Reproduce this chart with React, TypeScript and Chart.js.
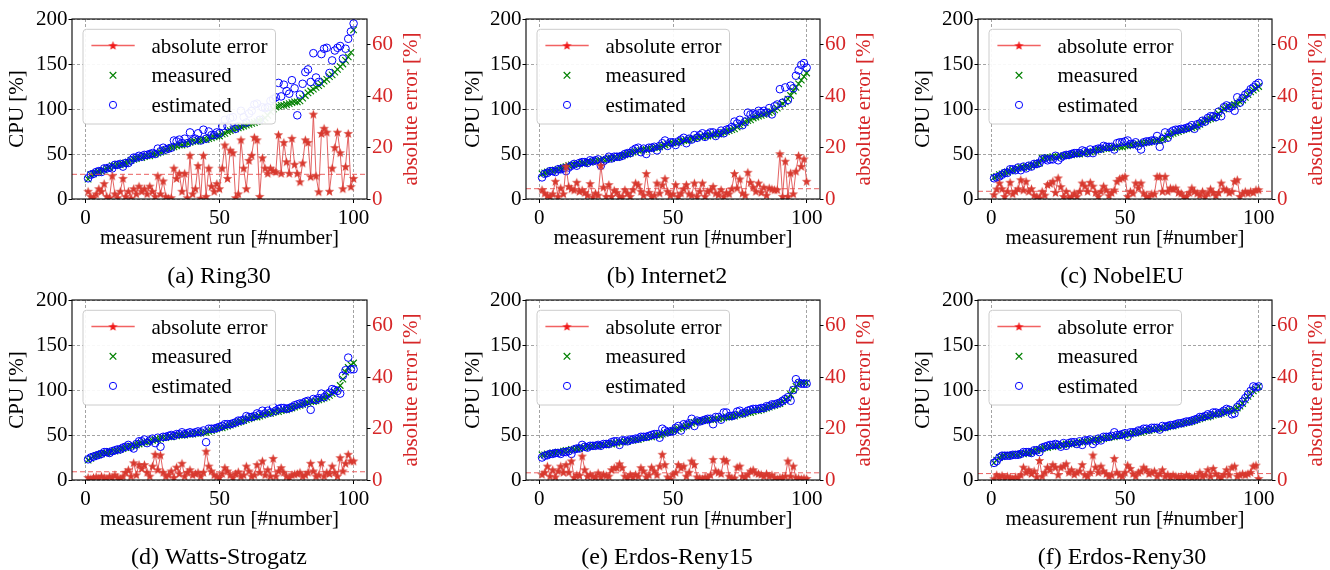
import React, { useEffect, useRef } from 'react';
import { Chart, registerables } from 'chart.js';

Chart.register(...registerables);

const FONT = "'Liberation Serif', 'Times New Roman', Times, serif";

// ---------- data ----------
const RUNS = Array.from({ length: 100 }, (_, k) => k + 1);
const X_TICKS = [0, 50, 100];
const ERR_TICKS = [0, 20, 40, 60];
const LEGEND_LABELS = ['absolute error', 'measured', 'estimated'];
const CAPTIONS = ['(a) Ring30', '(b) Internet2', '(c) NobelEU', '(d) Watts-Strogatz', '(e) Erdos-Reny15', '(f) Erdos-Reny30'];
const X_TITLE = 'measurement run [#number]';
const Y_TITLE = 'CPU [%]';
const Y2_TITLE = 'absolute error [%]';

const A_MEAS = [
  22, 27, 28, 29, 30, 31, 32, 34, 35, 37,
  37, 38, 38, 39, 40, 41, 43, 44, 45, 46,
  46, 47, 48, 48, 50, 50, 51, 52, 53, 55,
  56, 57, 58, 59, 60, 60, 61, 62, 63, 64,
  64, 65, 65, 66, 66, 67, 68, 69, 70, 70,
  72, 73, 75, 76, 77, 78, 79, 80, 81, 82,
  83, 84, 85, 86, 87, 88, 90, 93, 97, 100,
  102, 103, 104, 104, 105, 106, 107, 108, 108, 109,
  112, 115, 118, 120, 122, 124, 126, 128, 131, 133,
  136, 138, 141, 144, 147, 150, 154, 158, 163, 188];
const A_EST = [
  23, 27, 28, 30, 31, 30, 34, 34, 35, 34,
  38, 38, 39, 36, 40, 40, 43, 46, 46, 48,
  47, 49, 49, 50, 51, 50, 56, 53, 57, 55,
  56, 57, 65, 64, 66, 62, 67, 62, 74, 65,
  67, 73, 65, 77, 67, 75, 71, 71, 74, 73,
  81, 88, 81, 90, 91, 78, 81, 98, 91, 85,
  95, 98, 105, 106, 88, 102, 101, 102, 109, 111,
  113, 129, 114, 127, 120, 117, 132, 123, 93, 116,
  128, 141, 144, 130, 162, 135, 130, 161, 167, 168,
  140, 154, 165, 168, 170, 156, 167, 178, 186, 195];
const A_ERR = [
  3, 1, 0.5, 2, 4, 3, 6, 1, 0.5, 9,
  2, 0.5, 3, 8, 1, 3, 0.3, 4, 2, 5,
  3, 4, 2, 5, 3, 1, 9, 2, 7, 1,
  0.3, 0.5, 12, 8, 10, 3, 10, 0.5, 17, 2,
  4, 13, 0.3, 17, 1, 12, 5, 3, 6, 4,
  12, 21, 8, 19, 18, 0.5, 2, 23, 12, 4,
  15, 17, 24, 23, 1, 16, 12, 10, 12, 11,
  10.6, 25, 10, 22, 14.5, 10, 23.6, 13.5, 10, 6.7,
  14, 23, 22, 8.7, 33, 9, 2.8, 25.5, 27.5, 26,
  3, 12, 20, 26, 18, 4, 12.6, 25.5, 4.8, 8];

const B_MEAS = [
  28, 29, 30, 31, 31, 32, 33, 34, 35, 36,
  37, 38, 38, 39, 39, 40, 40, 41, 41, 42,
  42, 43, 43, 44, 44, 45, 45, 46, 46, 47,
  48, 49, 50, 51, 52, 53, 54, 54, 55, 55,
  56, 56, 57, 57, 58, 59, 60, 61, 62, 62,
  63, 63, 64, 65, 65, 66, 67, 67, 68, 69,
  69, 70, 70, 71, 71, 72, 72, 73, 74, 75,
  76, 77, 78, 80, 82, 84, 85, 87, 88, 90,
  91, 92, 93, 94, 95, 96, 97, 99, 101, 104,
  106, 108, 111, 115, 120, 124, 128, 132, 136, 140];
const B_EST = [
  24, 28, 29, 31, 31, 30, 33, 33, 34, 31,
  35, 37, 39, 37, 40, 41, 41, 40, 43, 42,
  43, 44, 37, 42, 44, 47, 45, 47, 47, 47,
  48, 50, 51, 51, 54, 56, 57, 52, 56, 50,
  57, 57, 58, 54, 59, 62, 65, 59, 63, 63,
  60, 64, 66, 68, 62, 67, 66, 71, 68, 71,
  73, 69, 72, 74, 74, 70, 73, 76, 73, 77,
  78, 80, 86, 84, 88, 82, 86, 96, 94, 95,
  94, 98, 96, 98, 96, 101, 94, 103, 105, 122,
  107, 124, 110, 126, 123, 137, 143, 149, 151, 146];
const B_ERR = [
  3.6, 2.3, 1.3, 1, 2, 6.9, 1, 4.3, 2, 12.7,
  4.9, 4, 3.5, 6.5, 3, 3.5, 2.5, 1.5, 6, 0.8,
  2.3, 1.5, 13, 4.6, 1, 5.6, 1, 3.4, 2.6, 1,
  1, 3.6, 2.3, 1, 3.6, 6.2, 5.5, 3, 1.5, 9.9,
  2.6, 1, 1.5, 6.2, 2.3, 5.5, 7.9, 3, 1.5, 2,
  5.6, 1, 2.3, 4, 5.6, 2, 1.5, 6.2, 1, 3,
  6.2, 1, 3, 3.5, 4.9, 2.3, 1.7, 3.6, 1, 2.5,
  2, 4, 9.9, 4.3, 7.8, 2.3, 1.5, 10.4, 6.5, 4.6,
  3, 6.2, 2.6, 4.6, 1.5, 4.3, 3.9, 3.6, 3.6, 17.6,
  1, 14.7, 1, 10.1, 2, 10.8, 16.9, 12.7, 15.6, 6.9];

const C_MEAS = [
  24, 25, 27, 28, 29, 30, 31, 32, 33, 34,
  35, 35, 36, 36, 37, 38, 39, 40, 45, 46,
  46, 46, 47, 47, 47, 48, 48, 48, 49, 49,
  50, 50, 50, 51, 51, 52, 52, 53, 54, 55,
  55, 56, 56, 57, 57, 57, 58, 58, 58, 59,
  59, 60, 60, 61, 61, 62, 62, 63, 63, 64,
  64, 65, 65, 66, 68, 70, 72, 73, 74, 75,
  76, 77, 78, 78, 79, 80, 81, 83, 85, 87,
  88, 89, 90, 92, 95, 98, 100, 102, 103, 104,
  105, 106, 108, 110, 113, 116, 119, 121, 123, 125];
const C_EST = [
  23, 24, 25, 27, 29, 29, 33, 33, 32, 35,
  32, 36, 34, 37, 36, 39, 39, 40, 44, 45,
  43, 44, 44, 48, 43, 46, 48, 49, 49, 50,
  51, 51, 51, 54, 53, 51, 55, 51, 55, 56,
  56, 59, 58, 58, 58, 55, 62, 63, 63, 64,
  65, 61, 61, 63, 59, 55, 63, 64, 64, 65,
  65, 70, 58, 67, 74, 68, 74, 76, 77, 77,
  78, 78, 79, 80, 82, 78, 83, 84, 87, 86,
  90, 92, 92, 91, 97, 92, 102, 104, 101, 103,
  98, 113, 107, 112, 116, 118, 122, 124, 127, 129];
const C_ERR = [
  1.7, 3.9, 6.2, 4, 1, 3, 6.5, 2, 3, 4,
  7.5, 3.5, 6.9, 3, 4, 1.5, 1, 0.5, 3, 1.5,
  5.6, 6, 6.9, 2.5, 8.2, 4.8, 1, 3, 0.5, 1,
  2.3, 1, 3, 6.2, 5, 3, 6.5, 5, 2.6, 1,
  3, 5, 3.5, 1.3, 2.5, 3.5, 6.9, 7.9, 8.2, 8.8,
  1, 3, 2.3, 6.2, 4.3, 6.2, 2.3, 1, 1, 2,
  2, 8.8, 8.8, 3, 8.8, 3, 4.3, 3.9, 4.3, 2.6,
  2.3, 1, 1, 2.5, 4.3, 3, 2.3, 1.5, 3, 1,
  2.3, 3.9, 2.6, 1.3, 2.5, 6.2, 3.9, 3.6, 2.5, 3,
  6.9, 7.5, 1, 2.3, 3, 2.3, 3, 2.6, 3.6, 3.6];

const D_MEAS = [
  22, 24, 26, 27, 28, 29, 30, 30, 31, 32,
  32, 33, 34, 35, 36, 37, 38, 38, 39, 40,
  41, 42, 42, 43, 44, 45, 45, 46, 47, 47,
  48, 48, 49, 49, 50, 50, 50, 51, 51, 51,
  52, 52, 52, 53, 53, 54, 55, 56, 57, 58,
  58, 59, 60, 61, 62, 63, 64, 65, 66, 67,
  68, 69, 70, 70, 71, 72, 73, 74, 74, 75,
  76, 76, 77, 78, 78, 79, 80, 81, 82, 83,
  84, 85, 86, 87, 87, 88, 89, 90, 91, 92,
  94, 96, 98, 101, 105, 112, 120, 125, 128, 130];
const D_EST = [
  23, 25, 26, 27, 28, 29, 31, 31, 30, 32,
  33, 34, 34, 36, 37, 39, 37, 35, 40, 43,
  43, 45, 41, 44, 46, 41, 47, 37, 48, 48,
  49, 50, 49, 51, 51, 53, 51, 52, 53, 52,
  53, 54, 53, 55, 42, 57, 57, 57, 58, 59,
  60, 62, 62, 62, 63, 64, 66, 66, 67, 71,
  70, 70, 71, 74, 73, 77, 74, 77, 75, 81,
  77, 79, 80, 80, 79, 80, 81, 83, 84, 85,
  85, 87, 88, 78, 90, 89, 91, 96, 92, 95,
  97, 101, 100, 99, 96, 116, 122, 136, 123, 123];
const D_ERR = [
  1, 0.5, 1, 1.3, 0.8, 1.5, 1, 0.5, 1.5, 1,
  2, 1, 0.5, 1.5, 3, 4, 1.5, 6.7, 2, 6,
  4.5, 6, 3, 1.5, 5.4, 10, 4, 9.7, 3, 1.5,
  2, 3.5, 1, 5, 2.5, 6.5, 1.5, 3, 4, 2,
  2.5, 3, 1.5, 3, 11.2, 5.4, 3.5, 2, 1.5, 1,
  2.5, 4.8, 3.5, 2, 1, 2.5, 3.2, 1.5, 2, 5.4,
  3.5, 1.5, 2, 6, 3, 7.4, 2, 4, 1.5, 8.4,
  1.5, 3.5, 4.8, 3, 1.5, 1, 2, 2.3, 2.5, 3,
  1.5, 2, 3, 6.5, 3.5, 1.5, 2, 6.7, 1.5, 3,
  2.5, 5.4, 3, 1.5, 8.7, 3.5, 6.5, 10, 7.4, 7.4];

const E_MEAS = [
  28, 28, 29, 29, 30, 30, 31, 31, 32, 33,
  33, 34, 34, 35, 35, 36, 36, 37, 37, 38,
  38, 38, 39, 39, 39, 40, 40, 41, 41, 42,
  42, 43, 43, 44, 44, 45, 45, 46, 47, 47,
  48, 48, 49, 50, 50, 51, 52, 53, 54, 55,
  56, 57, 58, 59, 60, 61, 63, 64, 65, 65,
  66, 66, 67, 67, 67, 68, 68, 69, 69, 70,
  70, 71, 71, 72, 73, 73, 74, 75, 75, 76,
  77, 77, 78, 79, 80, 81, 82, 83, 84, 85,
  87, 89, 91, 95, 100, 104, 107, 108, 108, 108];
const E_EST = [
  25, 27, 27.5, 29, 29, 30, 30, 29, 31, 31,
  32, 29, 34, 35, 35, 39, 37, 36, 38, 38,
  38, 39, 38, 40, 40, 40, 42, 43, 43, 39,
  44, 44, 43, 45, 45, 46, 46, 48, 48, 48,
  49, 50, 51, 51, 47, 57, 55, 53, 54, 54,
  58, 60, 55, 62, 61, 63, 68, 60, 66, 65,
  66, 67, 68, 68, 62, 70, 70, 67, 75, 75,
  71, 71, 72, 76, 77, 74, 75, 77, 78, 79,
  79, 79, 80, 80, 82, 82, 84, 84, 85, 86,
  88, 90, 92, 88, 100, 112, 108, 107, 107, 107];
const E_ERR = [
  2.2, 3, 5.4, 1.5, 4, 1.2, 3.5, 5.4, 3, 6,
  3, 7.4, 1, 2, 1.8, 9.3, 4, 1.5, 2.2, 1.5,
  1.2, 2.8, 1.2, 2.2, 1.8, 1.5, 4, 4.8, 4.8, 6.3,
  4.8, 1.5, 1, 2.2, 1.2, 2.2, 1.5, 4.8, 3.5, 1.2,
  2, 5, 3.5, 2, 5.4, 10, 6, 1.2, 0.3, 2.2,
  3, 6, 4.8, 5.4, 1.5, 3, 7.4, 6, 1.2, 0.8,
  0.5, 1.2, 1, 2, 8, 3.5, 3, 2.5, 8, 7.4,
  1.5, 0.8, 0.8, 5, 5.4, 1.5, 1.2, 2.2, 3.5, 4,
  2.8, 2.5, 2.2, 1.5, 2.5, 1.5, 2, 1, 0.5, 1,
  1, 1.5, 7.4, 1.5, 5.4, 1, 0.8, 0.5, 0.8, 0.6];

const F_MEAS = [
  19, 22, 25, 26, 27, 27, 27, 28, 28, 28,
  29, 29, 30, 30, 31, 32, 33, 34, 35, 36,
  36, 37, 37, 38, 38, 39, 39, 40, 40, 40,
  41, 41, 42, 42, 43, 43, 44, 44, 45, 45,
  46, 46, 47, 47, 48, 48, 49, 49, 50, 50,
  51, 51, 52, 52, 53, 53, 54, 55, 55, 56,
  56, 57, 57, 58, 58, 59, 60, 60, 61, 62,
  62, 63, 64, 64, 65, 66, 67, 68, 69, 70,
  70, 71, 72, 73, 73, 74, 75, 76, 77, 77,
  78, 80, 82, 85, 89, 93, 96, 99, 101, 104];
const F_EST = [
  19, 21, 25, 27, 27, 27, 27, 28, 28, 28,
  29, 31, 31, 31, 30, 33, 33, 31, 36, 37,
  38, 39, 39, 40, 39, 37, 41, 38, 41, 42,
  42, 40, 43, 39, 44, 44, 45, 40, 43, 46,
  44, 48, 48, 48, 49, 53, 50, 50, 51, 52,
  48, 53, 53, 53, 55, 55, 57, 57, 56, 58,
  58, 58, 56, 60, 59, 60, 61, 61, 62, 63,
  63, 64, 65, 65, 66, 67, 68, 70, 70, 71,
  73, 72, 75, 75, 74, 75, 77, 79, 78, 73,
  74, 81, 84, 87, 91, 95, 99, 104, 103, 104];
const F_ERR = [
  0.5, 2, 1.2, 1.8, 0.8, 1.5, 1, 0.5, 1.2, 1,
  2, 5, 3, 4, 2.5, 3.5, 1.2, 7.6, 1.5, 3,
  5, 4, 6, 5, 2, 5, 5.4, 6.3, 3, 4,
  2.2, 3, 3.5, 6, 2, 1.5, 3, 9.7, 5, 3,
  5.4, 3.5, 2.5, 1.5, 2, 8.4, 3, 2, 1.5, 3,
  5.8, 4.5, 2.5, 1.5, 3, 3.5, 5, 4, 2.5, 3,
  3.5, 1.5, 2.5, 4, 1.5, 2.2, 1.2, 2, 1.5, 1.2,
  1.5, 1, 2, 1.5, 1, 1.5, 1.2, 3, 1.5, 2,
  4, 1.5, 4.5, 2.5, 1.5, 1, 2.2, 4, 2, 5,
  5.4, 1.5, 2, 2.5, 2, 2.5, 3, 5.4, 5.8, 0.6];

const MEAS = [A_MEAS, B_MEAS, C_MEAS, D_MEAS, E_MEAS, F_MEAS];
const EST = [A_EST, B_EST, C_EST, D_EST, E_EST, F_EST];
const ERR = [A_ERR, B_ERR, C_ERR, D_ERR, E_ERR, F_ERR];
const ERR_MEAN = [9.6, 4.0, 3.0, 3.2, 2.8, 2.5];

// ---------- layout (page pixels) ----------
const CANVAS_H = 289;
const PAD_TOP = 19;
const PAD_BOTTOM = 34;
const XAXIS_H = 56;
const RIGHT_W = 57;
const COLS = [
  { left: 1, leftW: 71, areaW: 295, capX: 219 },
  { left: 457, leftW: 69, areaW: 294, capX: 667 },
  { left: 907, leftW: 71, areaW: 294, capX: 1122 },
];
const ROW_TOPS = [0, 281];

const RED_TXT = '#d62728';

function makeStar(color: string, R: number) {
  const c = document.createElement('canvas');
  const s = Math.ceil(R * 2) + 1;
  c.width = s;
  c.height = s;
  const g = c.getContext('2d')!;
  g.fillStyle = color;
  g.beginPath();
  for (let k = 0; k < 10; k++) {
    const r = k % 2 === 0 ? R : R * 0.42;
    const a = -Math.PI / 2 + (k * Math.PI) / 5;
    g.lineTo(s / 2 + r * Math.cos(a), s / 2 + 0.4 + r * Math.sin(a));
  }
  g.closePath();
  g.fill();
  return c;
}

function Panel({ idx }: { idx: number }) {
  const ref = useRef<HTMLCanvasElement>(null);
  const col = COLS[idx % 3];
  const top = ROW_TOPS[Math.floor(idx / 3)];
  const width = col.leftW + col.areaW + RIGHT_W;

  useEffect(() => {
    const star = makeStar('#d8392f', 5);
    const legendStar = makeStar('#f01a1a', 4.8);
    const caption = CAPTIONS[idx];
    const capX = col.capX - col.left;

    const decor = {
      id: 'decor',
      afterDatasetsDraw(chart: any) {
        const { ctx, chartArea: ca } = chart;
        ctx.save();
        ctx.strokeStyle = '#000';
        ctx.lineWidth = 1.1;
        ctx.strokeRect(ca.left, ca.top, ca.right - ca.left, ca.bottom - ca.top);
        ctx.restore();
      },
      afterDraw(chart: any) {
        const { ctx, chartArea: ca } = chart;
        ctx.save();
        // right axis title (reads bottom-to-top like matplotlib)
        ctx.translate(ca.right + 44, (ca.top + ca.bottom) / 2);
        ctx.rotate(-Math.PI / 2);
        ctx.fillStyle = RED_TXT;
        ctx.font = `21px ${FONT}`;
        ctx.textAlign = 'center';
        ctx.textBaseline = 'middle';
        ctx.fillText(Y2_TITLE, 0, 0);
        ctx.restore();

        // legend
        ctx.save();
        const bx = ca.left + 11;
        const by = ca.top + 10.3;
        const bw = 192.5;
        const bh = 94.7;
        ctx.beginPath();
        if ((ctx as any).roundRect) (ctx as any).roundRect(bx, by, bw, bh, 3.5);
        else ctx.rect(bx, by, bw, bh);
        ctx.fillStyle = 'rgba(255,255,255,0.93)';
        ctx.fill();
        ctx.strokeStyle = '#cccccc';
        ctx.lineWidth = 1;
        ctx.stroke();
        const rows = [16.2, 46, 75.6];
        const mx = bx + 30;
        // row 1: line + star
        ctx.strokeStyle = 'rgba(240,70,70,0.85)';
        ctx.lineWidth = 1.5;
        ctx.beginPath();
        ctx.moveTo(bx + 8.4, by + rows[0]);
        ctx.lineTo(bx + 51.7, by + rows[0]);
        ctx.stroke();
        ctx.drawImage(legendStar, mx - legendStar.width / 2, by + rows[0] - legendStar.height / 2);
        // row 2: green x
        ctx.strokeStyle = '#008000';
        ctx.lineWidth = 1.2;
        const h = 3.3;
        ctx.beginPath();
        ctx.moveTo(mx - h, by + rows[1] - h);
        ctx.lineTo(mx + h, by + rows[1] + h);
        ctx.moveTo(mx - h, by + rows[1] + h);
        ctx.lineTo(mx + h, by + rows[1] - h);
        ctx.stroke();
        // row 3: blue circle
        ctx.strokeStyle = '#0000ff';
        ctx.lineWidth = 1;
        ctx.beginPath();
        ctx.arc(mx, by + rows[2], 3.6, 0, Math.PI * 2);
        ctx.stroke();
        ctx.fillStyle = '#000';
        ctx.font = `21px ${FONT}`;
        ctx.textAlign = 'left';
        ctx.textBaseline = 'alphabetic';
        const baselines = [23.4, 53, 82.4];
        LEGEND_LABELS.forEach((t, k) => ctx.fillText(t, bx + 68.4, by + baselines[k]));
        ctx.restore();

        // caption
        ctx.save();
        ctx.fillStyle = '#000';
        ctx.font = `24px ${FONT}`;
        ctx.textAlign = 'center';
        ctx.textBaseline = 'alphabetic';
        ctx.fillText(caption, capX, ca.bottom + 84);
        ctx.restore();
      },
    };

    const tickFont = { family: FONT, size: 21 };
    const gridCommon = {
      color: 'rgba(110,110,110,0.8)',
      lineWidth: 0.8,
      drawTicks: true,
      tickColor: '#000',
      tickWidth: 1,
      tickBorderDash: [],
    };

    const chart = new Chart(ref.current!, {
      type: 'scatter',
      data: {
        datasets: [
          {
            label: LEGEND_LABELS[0],
            data: RUNS.map((x, k) => ({ x, y: ERR[idx][k] })),
            yAxisID: 'y1',
            showLine: true,
            borderColor: 'rgba(222,70,70,0.85)',
            borderWidth: 1,
            pointStyle: star as any,
            pointRadius: 4,
            order: 0,
          },
          {
            label: 'mean',
            data: [{ x: -5, y: ERR_MEAN[idx] }, { x: 105, y: ERR_MEAN[idx] }],
            yAxisID: 'y1',
            showLine: true,
            borderColor: 'rgba(232,80,80,0.9)',
            borderDash: [5, 3],
            borderWidth: 1,
            pointRadius: 0,
            order: 1,
          },
          {
            label: LEGEND_LABELS[2],
            data: RUNS.map((x, k) => ({ x, y: EST[idx][k] })),
            yAxisID: 'y',
            pointStyle: 'circle',
            pointRadius: 3.8,
            borderColor: '#0000ff',
            backgroundColor: 'rgba(0,0,0,0)',
            borderWidth: 1,
            order: 2,
          },
          {
            label: LEGEND_LABELS[1],
            data: RUNS.map((x, k) => ({ x, y: MEAS[idx][k] })),
            yAxisID: 'y',
            pointStyle: 'crossRot',
            pointRadius: 4.6,
            borderColor: '#008000',
            backgroundColor: '#008000',
            borderWidth: 1.1,
            order: 3,
          },
        ],
      },
      options: {
        responsive: false,
        animation: false,
        events: [],
        layout: { padding: { top: PAD_TOP, bottom: PAD_BOTTOM, left: 0, right: 0 } },
        plugins: { legend: { display: false }, tooltip: { enabled: false }, title: { display: false } },
        scales: {
          x: {
            type: 'linear',
            min: -5,
            max: 105,
            afterBuildTicks: (s: any) => {
              s.ticks = X_TICKS.map((v) => ({ value: v }));
            },
            afterFit: (s: any) => {
              s.height = XAXIS_H;
            },
            grid: { ...gridCommon, tickLength: 4 },
            border: { display: false, dash: [3, 2] },
            ticks: { font: tickFont, color: '#000', padding: 3, maxRotation: 0, autoSkip: false },
            title: { display: true, text: X_TITLE, font: tickFont, color: '#000', padding: { top: 4, bottom: 4 } },
          },
          y: {
            type: 'linear',
            position: 'left',
            min: 0,
            max: 200,
            afterFit: (s: any) => {
              s.width = col.leftW;
            },
            grid: { ...gridCommon, tickLength: 3.5 },
            border: { display: false, dash: [3, 2] },
            ticks: { stepSize: 50, font: tickFont, color: '#000', padding: 1 },
            title: { display: true, text: Y_TITLE, font: tickFont, color: '#000', padding: { top: 4, bottom: 4 } },
          },
          y1: {
            type: 'linear',
            position: 'right',
            min: 0,
            max: 70,
            afterBuildTicks: (s: any) => {
              s.ticks = ERR_TICKS.map((v) => ({ value: v }));
            },
            afterFit: (s: any) => {
              s.width = RIGHT_W;
            },
            grid: { ...gridCommon, drawOnChartArea: false, tickLength: 3.5 },
            border: { display: false },
            ticks: { font: tickFont, color: RED_TXT, padding: 1.5 },
            title: { display: false },
          },
        },
      } as any,
      plugins: [decor],
    });
    return () => chart.destroy();
  }, [idx]);

  return (
    <canvas
      ref={ref}
      width={width}
      height={CANVAS_H}
      style={{ position: 'absolute', left: col.left, top, width, height: CANVAS_H }}
    />
  );
}

export default function App() {
  return (
    <div style={{ position: 'absolute', left: 0, top: 0, width: 1330, height: 570, background: '#fff', overflow: 'hidden' }}>
      {[0, 1, 2, 3, 4, 5].map((i) => (
        <Panel key={i} idx={i} />
      ))}
    </div>
  );
}
